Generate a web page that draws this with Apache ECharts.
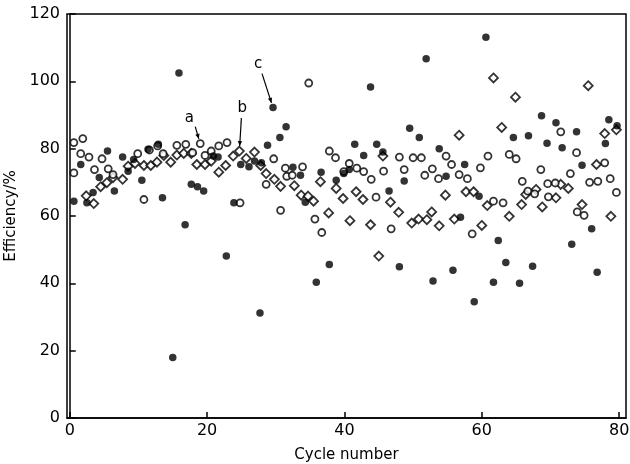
<!DOCTYPE html>
<html>
<head>
<meta charset="utf-8">
<script src="https://cdn.jsdelivr.net/npm/echarts@6/dist/echarts.min.js"></script>
<style>
	html, body { margin: 0; padding: 0; background: #fff; }
	#main { width: 630px; height: 464px; }
</style>
</head>
<body>
<div id="main"></div>
<script>
// [cycle, efficiency %]
var filledPts = [
	[0.6, 64.4], [1.6, 75.3], [2.5, 63.9], [3.4, 67], [4.3, 71.4], [5.5, 79.3], [6.5, 67.4], [7.7, 77.5],
	[8.5, 73.3], [9.3, 76.8], [10.5, 70.6], [11.4, 79.8], [12.9, 81.3], [13.5, 65.4], [15, 18], [15.9, 102.5],
	[16.8, 57.4], [17.7, 69.4], [18.6, 68.7], [19.5, 67.4], [20.9, 77.8], [21.6, 77.5], [22.8, 48.1], [23.9, 63.9],
	[24.9, 75.3], [26.1, 74.6], [26.9, 76.3], [27.7, 31.2], [27.9, 75.8], [28.8, 81], [29.6, 92.2], [30.6, 83.3],
	[31.5, 86.5], [32.5, 74.5], [33.6, 72.1], [34.3, 64.1], [35.9, 40.3], [36.6, 73], [37.8, 45.6], [38.8, 70.6],
	[39.9, 72.6], [40.7, 73.8], [41.5, 81.3], [42.8, 78], [43.8, 98.3], [44.7, 81.3], [45.6, 79], [46.5, 67.4],
	[48, 44.9], [48.7, 70.4], [49.5, 86.1], [50.9, 83.3], [51.9, 106.7], [52.9, 40.7], [53.8, 80], [54.8, 71.8],
	[55.8, 43.9], [56.9, 59.6], [57.5, 75.3], [58.9, 34.5], [59.6, 65.9], [60.6, 113.1], [61.7, 40.3], [62.4, 52.7],
	[63.5, 46.2], [64.6, 83.3], [65.5, 40], [66.8, 83.8], [67.4, 45.1], [68.7, 89.8], [69.5, 81.6], [70.8, 87.7],
	[71.7, 80.3], [73.1, 51.6], [73.8, 85], [74.6, 75.1], [76, 56.2], [76.8, 43.3], [78, 81.5], [78.5, 88.6],
	[79.7, 86.8]
];
var circlePts = [
	[0.6, 81.8], [0.6, 72.8], [1.9, 83], [1.6, 78.5], [2.8, 77.5], [3.6, 73.8], [4.7, 77], [5.6, 74], [6.3, 72.3],
	[9.9, 78.5], [10.8, 64.9], [11.6, 79.6], [12.8, 80.8], [13.6, 78.5], [15.6, 81], [16.9, 81.3], [17.9, 78.8],
	[19, 81.5], [19.7, 78], [20.6, 79.3], [21.7, 80.8], [22.9, 81.8], [24.8, 63.9], [28.6, 69.4], [29.7, 77],
	[30.7, 61.7], [31.4, 74.2], [31.6, 71.8], [32.4, 72.1], [33.9, 74.6], [34.8, 99.5], [35.7, 59.1], [36.7, 55.1],
	[37.8, 79.3], [38.7, 77.3], [39.9, 73.2], [40.7, 75.6], [41.8, 74.2], [42.8, 73.2], [43.9, 70.9], [44.6, 65.6],
	[45.7, 73.3], [46.8, 56.2], [48, 77.5], [48.7, 73.8], [50, 77.3], [51.2, 77.3], [51.7, 72.1], [52.8, 74],
	[53.7, 71.1], [54.8, 77.8], [55.6, 75.3], [56.7, 72.3], [57.9, 71.1], [58.6, 54.7], [59.8, 74.3], [60.9, 77.8],
	[61.7, 64.4], [63.1, 63.9], [64, 78.3], [65, 77], [65.9, 70.3], [66.7, 67.4], [67.7, 66.6], [68.6, 73.8],
	[69.6, 69.6], [69.7, 65.7], [70.7, 69.8], [71.5, 85], [72.9, 72.6], [73.8, 78.8], [73.9, 61.2], [74.9, 60.2],
	[75.7, 70], [76.9, 70.3], [77.9, 75.8], [78.7, 71.1], [79.6, 67]
];
var diamondPts = [
	[2.4, 66], [3.5, 63.7], [4.5, 68.7], [5.4, 69.9], [6.3, 71.4], [7.7, 70.9], [8.5, 74.8], [9.5, 75.6],
	[10.8, 75], [11.8, 75], [12.7, 76], [13.7, 78], [14.7, 76], [15.6, 78.1], [16.6, 78.6], [17.7, 78.6],
	[18.5, 75.3], [19.7, 75.3], [20.6, 76.3], [21.7, 73], [22.7, 75], [23.8, 77.8], [24.7, 79.3], [25.7, 77.1],
	[26.9, 79], [27.8, 75], [28.6, 72.6], [29.8, 70.9], [30.7, 68.8], [32.7, 69], [33.7, 66.2], [34.7, 65.9],
	[35.5, 64.4], [36.5, 70.2], [37.7, 60.9], [38.8, 68.2], [39.8, 65.2], [40.8, 58.6], [41.7, 67.2], [42.7, 64.9],
	[43.8, 57.4], [45, 48.1], [45.6, 77.8], [46.7, 64.1], [47.9, 61.1], [49.8, 57.9], [50.8, 59.1], [52, 58.9],
	[52.7, 61.2], [53.8, 57.1], [54.7, 66.2], [56, 59.1], [56.7, 84], [57.7, 67.2], [58.8, 67.2], [60, 57.2],
	[60.8, 63.1], [61.7, 101], [62.9, 86.3], [64, 59.9], [64.9, 95.3], [65.8, 63.4], [66.4, 66.4], [67.9, 67.9],
	[68.8, 62.7], [70.8, 65.4], [71.5, 69.4], [72.6, 68.2], [74.6, 63.4], [75.5, 98.7], [76.7, 75.3], [77.9, 84.5],
	[78.8, 59.9], [79.6, 85.6]
];
var xTicks = [0, 20, 40, 60, 80];

// labelled points: letter, series, index of the point
var notes = [
	{ text: 'a', pts: circlePts, idx: 17, tx: -11, ty: -26, ax: -5, ay: -17 },
	{ text: 'b', pts: diamondPts, idx: 22, tx: 3, ty: -43, ax: 2, ay: -33 },
	{ text: 'c', pts: filledPts, idx: 30, tx: -15, ty: -43, ax: -11, ay: -34 }
];

var font = 'DejaVu Sans';
var chart = echarts.init(document.getElementById('main'));

var openStyle = {
	color: '#fff',
	borderColor: '#000',
	borderWidth: 1.8
};

chart.setOption({
	animation: false,
	backgroundColor: '#fff',
	grid: {
		show: true,
		left: 67,
		right: 4,
		top: 14,
		bottom: 46,
		outerBoundsMode: 'none',
		containLabel: false,
		borderColor: '#000',
		borderWidth: 1.5
	},
	xAxis: {
		type: 'value',
		min: -0.4,
		max: 81,
		name: 'Cycle number',
		nameLocation: 'middle',
		nameGap: 30,
		nameTextStyle: { fontFamily: font, fontSize: 15, color: '#000' },
		splitLine: { show: false },
		axisLine: { lineStyle: { color: '#000', width: 1.5 } },
		axisTick: { inside: true, length: 6, customValues: xTicks, lineStyle: { color: '#000', width: 1.5 } },
		axisLabel: { customValues: xTicks, margin: 5, fontFamily: font, fontSize: 16, color: '#000' }
	},
	yAxis: {
		type: 'value',
		min: 0,
		max: 120,
		interval: 20,
		name: 'Efficiency/%',
		nameLocation: 'middle',
		nameGap: 39,
		nameTextStyle: { fontFamily: font, fontSize: 15, color: '#000' },
		splitLine: { show: false },
		axisLine: { lineStyle: { color: '#000', width: 1.5 } },
		axisTick: { inside: true, length: 6, lineStyle: { color: '#000', width: 1.5 } },
		axisLabel: { margin: 7, fontFamily: font, fontSize: 16, color: '#000' }
	},
	series: [{
		name: 'open diamond',
		type: 'scatter',
		symbol: 'diamond',
		symbolSize: 9,
		itemStyle: openStyle,
		data: diamondPts
	}, {
		name: 'open circle',
		type: 'scatter',
		symbol: 'circle',
		symbolSize: 7,
		itemStyle: openStyle,
		data: circlePts
	}, {
		name: 'filled',
		type: 'scatter',
		symbol: 'circle',
		symbolSize: 7.5,
		itemStyle: { color: '#000' },
		data: filledPts
	}]
});

// letters with arrows, placed relative to the point they mark
var els = [];
notes.forEach(function(n) {
	var p = chart.convertToPixel({ gridIndex: 0 }, n.pts[n.idx]);
	var x1 = p[0] + n.ax, y1 = p[1] + n.ay;
	var dx = -n.ax, dy = -n.ay;
	var len = Math.sqrt(dx * dx + dy * dy);
	var ux = dx / len, uy = dy / len;
	var x2 = p[0] - ux * 5, y2 = p[1] - uy * 5;
	els.push({
		type: 'text',
		x: p[0] + n.tx,
		y: p[1] + n.ty,
		style: { text: n.text, font: '15px ' + font, fill: '#000', textAlign: 'center', textVerticalAlign: 'middle' }
	});
	els.push({
		type: 'line',
		shape: { x1: x1, y1: y1, x2: x2, y2: y2 },
		style: { stroke: '#000', lineWidth: 1.2 }
	});
	els.push({
		type: 'polygon',
		shape: {
			points: [
				[x2, y2],
				[x2 - ux * 5 - uy * 2.2, y2 - uy * 5 + ux * 2.2],
				[x2 - ux * 5 + uy * 2.2, y2 - uy * 5 - ux * 2.2]
			]
		},
		style: { fill: '#000' }
	});
});
chart.setOption({ graphic: els });
</script>
</body>
</html>
